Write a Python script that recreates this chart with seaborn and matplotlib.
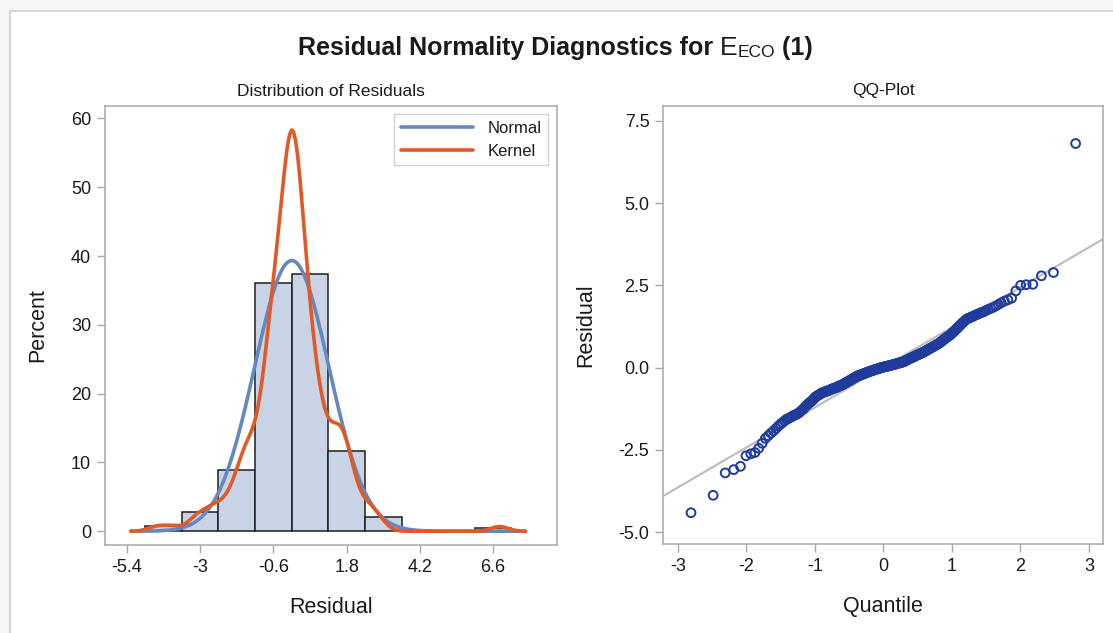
import numpy as np
import pandas as pd
import matplotlib
matplotlib.use("Agg")
import matplotlib.pyplot as plt
from matplotlib.lines import Line2D
from matplotlib.patches import Rectangle
import seaborn as sns
from statistics import NormalDist

# ---------------- data ----------------
# sorted residuals (n = 249)
residuals = [
    -4.41, -3.88, -3.20, -3.10, -3.00, -2.68, -2.62, -2.58, -2.45, -2.30,
    -2.15, -2.07, -1.99, -1.92, -1.85, -1.78, -1.72, -1.67, -1.62, -1.57,
    -1.55, -1.52, -1.49, -1.46, -1.44, -1.42, -1.39, -1.36, -1.32, -1.28,
    -1.25, -1.19, -1.15, -1.12, -1.08, -1.05, -1.02, -0.99, -0.95, -0.91,
    -0.88, -0.86, -0.84, -0.82, -0.80, -0.78, -0.76, -0.755, -0.74, -0.73,
    -0.72, -0.71, -0.70, -0.69, -0.675, -0.66, -0.65, -0.64, -0.63, -0.62,
    -0.61, -0.60, -0.585, -0.575, -0.565, -0.55, -0.54, -0.53, -0.52, -0.505,
    -0.49, -0.475, -0.46, -0.45, -0.435, -0.42, -0.41, -0.395, -0.38, -0.37,
    -0.355, -0.34, -0.325, -0.31, -0.30, -0.285, -0.27, -0.26, -0.25, -0.245,
    -0.235, -0.225, -0.22, -0.21, -0.20, -0.195, -0.185, -0.175, -0.17, -0.16,
    -0.15, -0.145, -0.135, -0.125, -0.12, -0.11, -0.105, -0.10, -0.09, -0.085,
    -0.075, -0.07, -0.06, -0.055, -0.05, -0.04, -0.035, -0.03, -0.02, -0.015,
    -0.01, 0.00, 0.005, 0.01, 0.015, 0.02, 0.025, 0.03, 0.035, 0.04,
    0.045, 0.05, 0.055, 0.06, 0.065, 0.07, 0.075, 0.08, 0.09, 0.095,
    0.10, 0.105, 0.11, 0.12, 0.125, 0.13, 0.135, 0.14, 0.15, 0.155,
    0.16, 0.165, 0.17, 0.18, 0.19, 0.20, 0.21, 0.225, 0.235, 0.245,
    0.255, 0.27, 0.28, 0.29, 0.30, 0.31, 0.325, 0.335, 0.345, 0.355,
    0.37, 0.38, 0.39, 0.40, 0.41, 0.425, 0.435, 0.445, 0.455, 0.465,
    0.48, 0.495, 0.51, 0.525, 0.54, 0.555, 0.57, 0.585, 0.60, 0.615,
    0.63, 0.645, 0.66, 0.68, 0.695, 0.71, 0.725, 0.745, 0.77, 0.79,
    0.815, 0.84, 0.86, 0.885, 0.91, 0.93, 0.955, 0.98, 1.00, 1.04,
    1.07, 1.10, 1.14, 1.18, 1.21, 1.25, 1.29, 1.33, 1.37, 1.41,
    1.45, 1.48, 1.50, 1.52, 1.54, 1.56, 1.59, 1.61, 1.63, 1.66,
    1.68, 1.70, 1.74, 1.77, 1.80, 1.83, 1.87, 1.92, 1.97, 2.02,
    2.06, 2.11, 2.33, 2.50, 2.52, 2.53, 2.79, 2.89, 6.81,
]

bin_width = 1.2
bin_range = (-4.8, 7.2)
hist_ticks = [-5.4, -3.0, -0.6, 1.8, 4.2, 6.6]
hist_tick_labels = ["-5.4", "-3", "-0.6", "1.8", "4.2", "6.6"]
pct_ticks = [0, 10, 20, 30, 40, 50, 60]
qq_xticks = [-3, -2, -1, 0, 1, 2, 3]
qq_yticks = [-5.0, -2.5, 0.0, 2.5, 5.0, 7.5]
legend_labels = ["Normal", "Kernel"]
title_parts = ["Residual Normality Diagnostics for ", "E", "ECO", " (1)"]

# ---------------- style ----------------
bar_fill = "#C8D4E6"
bar_edge = "#1E1E1E"
normal_color = "#6588BF"
kernel_color = "#E05A28"
qq_color = "#1F3C9C"
ref_color = "#BDBDBD"
spine_color = "#A8A8A8"
text_color = "#1A1A1A"

sns.set_theme(style="white")
plt.rcParams["font.family"] = ["Liberation Sans", "DejaVu Sans"]
plt.rcParams["text.color"] = text_color
plt.rcParams["axes.labelcolor"] = text_color
plt.rcParams["xtick.color"] = text_color
plt.rcParams["ytick.color"] = text_color

W, H = 1113, 633
fig = plt.figure(figsize=(W / 100, H / 100), dpi=100, facecolor="#F6F6F6")
fig.patches.append(Rectangle((10 / W, -0.1), 1.2, 1 - 11 / H + 0.1, transform=fig.transFigure,
                             facecolor="white", edgecolor="#D6D6D6", linewidth=1.5, zorder=-5))


def px_axes(x0, y0, x1, y1):
    return fig.add_axes([x0 / W, 1 - y1 / H, (x1 - x0) / W, (y1 - y0) / H])


ax1 = px_axes(105, 106, 556.7, 545)
ax2 = px_axes(663.3, 106, 1103.3, 544)

# ---------------- left: histogram + normal + kernel ----------------
df = pd.DataFrame({"Residual": residuals})
sns.histplot(data=df, x="Residual", binwidth=bin_width, binrange=bin_range, stat="percent",
             kde=True, kde_kws=dict(bw_adjust=0.7, cut=3),
             color=bar_fill, alpha=1, edgecolor=bar_edge, linewidth=1.1,
             line_kws=dict(lw=2.6), ax=ax1)
kde_line = ax1.lines[-1]
kde_line.set_color(kernel_color)
kde_line.set_zorder(4)

res = np.array(residuals)
mu, sd = float(res.mean()), float(res.std(ddof=1))
support = kde_line.get_xdata()
nd = NormalDist(mu, sd)
normal_pct = [nd.pdf(v) * 100 * bin_width for v in support]
sns.lineplot(x=support, y=normal_pct, color=normal_color, lw=2.6, ax=ax1, zorder=3,
             sort=False, estimator=None)

handles = [Line2D([], [], color=normal_color, lw=2.6), Line2D([], [], color=kernel_color, lw=2.6)]
leg = ax1.legend(handles, legend_labels, loc="upper right", frameon=True, fancybox=False,
                 edgecolor="#C8C8C8", fontsize=12, handlelength=4.3, borderaxespad=0.5,
                 labelspacing=0.45, handletextpad=0.9, borderpad=0.4)
leg.get_frame().set_linewidth(1.0)

ax1.set_xlim(-6.11, 8.68)
ax1.set_ylim(-2.0, 61.8)
ax1.set_xticks(hist_ticks)
ax1.set_xticklabels(hist_tick_labels)
ax1.set_yticks(pct_ticks)
ax1.set_xlabel("Residual", fontsize=15.5)
ax1.set_ylabel("Percent", fontsize=15.5)
ax1.xaxis.set_label_coords(0.5, -0.118)
ax1.yaxis.set_label_coords(-0.125, 0.5)

# ---------------- right: QQ plot ----------------
sorted_res = sorted(residuals)
n = len(sorted_res)
std_norm = NormalDist()
quantiles = [std_norm.inv_cdf((i + 1 - 0.375) / (n + 0.25)) for i in range(n)]
ax2.axline((0, mu), slope=sd, color=ref_color, lw=1.6, zorder=2)
sns.scatterplot(x=quantiles, y=sorted_res, marker="o", s=40, facecolors="none",
                edgecolor=qq_color, linewidth=1.4, ax=ax2, zorder=3)
ax2.set_xlim(-3.21, 3.21)
ax2.set_ylim(-5.36, 7.95)
ax2.set_xticks(qq_xticks)
ax2.set_xticklabels([str(v) for v in qq_xticks])
ax2.set_yticks(qq_yticks)
ax2.set_yticklabels([f"{v:.1f}" for v in qq_yticks])
ax2.set_xlabel("Quantile", fontsize=15.5)
ax2.set_ylabel("Residual", fontsize=15.5)
ax2.xaxis.set_label_coords(0.5, -0.118)
ax2.yaxis.set_label_coords(-0.152, 0.5)

for ax in (ax1, ax2):
    for s in ax.spines.values():
        s.set_color(spine_color)
        s.set_linewidth(1.1)
    ax.tick_params(axis="both", which="major", direction="out", length=6, width=1,
                   color=spine_color, labelsize=13, pad=4, bottom=True, left=True)
    ax.grid(False)
    ax.set_facecolor("white")

# ---------------- titles ----------------
renderer = fig.canvas.get_renderer()
styles = [dict(fontsize=18, fontweight="bold"), dict(fontsize=19, fontweight="normal"),
          dict(fontsize=12.5, fontweight="normal"), dict(fontsize=18, fontweight="bold")]
offsets = [0, 0, -2, 0]
texts = []
for part, st, dy in zip(title_parts, styles, offsets):
    t = fig.text(0, 0, part, ha="left", va="baseline", transform=None, **st)
    texts.append((t, dy))
widths = [t.get_window_extent(renderer).width for t, _ in texts]
x_cur = 555 - sum(widths) / 2
base_y = H - 55
for (t, dy), w in zip(texts, widths):
    t.set_position((x_cur, base_y + dy))
    x_cur += w

fig.text((105 + 556.7) / 2 / W, 1 - 91 / H, "Distribution of Residuals",
         ha="center", va="center", fontsize=12.5)
fig.text((663.3 + 1103.3) / 2 / W, 1 - 91 / H, "QQ-Plot",
         ha="center", va="center", fontsize=12.5)

fig.savefig("out.png", dpi=100, facecolor=fig.get_facecolor())
